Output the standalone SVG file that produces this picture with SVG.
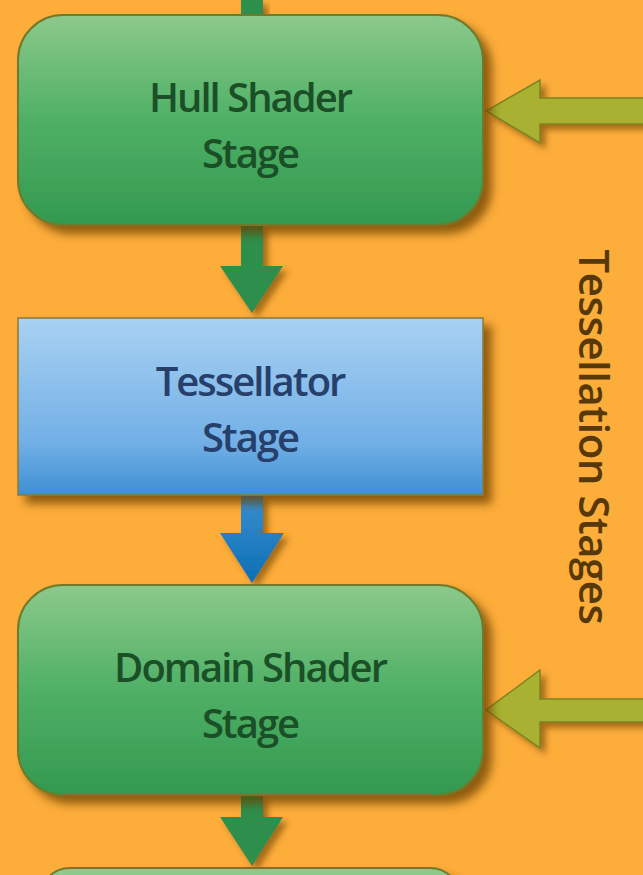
<svg xmlns="http://www.w3.org/2000/svg" width="643" height="875" viewBox="0 0 643 875">
<defs>
<linearGradient id="gGreen" x1="0" y1="0" x2="0" y2="1">
<stop offset="0" stop-color="#8cc98a"/>
<stop offset="0.5" stop-color="#4fb066"/>
<stop offset="1" stop-color="#33994f"/>
</linearGradient>
<linearGradient id="gBlue" x1="0" y1="0" x2="0" y2="1">
<stop offset="0" stop-color="#a9d1f2"/>
<stop offset="0.7" stop-color="#72b0e6"/>
<stop offset="1" stop-color="#3f8fd4"/>
</linearGradient>
<linearGradient id="gBlueArrow" x1="0" y1="0" x2="0" y2="1">
<stop offset="0" stop-color="#3a8fd0"/>
<stop offset="1" stop-color="#0b6fb4"/>
</linearGradient>
<filter id="shadow" x="-10%" y="-10%" width="125%" height="130%">
<feDropShadow dx="8" dy="8" stdDeviation="5" flood-color="#6b4300" flood-opacity="0.75"/>
</filter>
<filter id="ashadow" x="-20%" y="-20%" width="150%" height="150%">
<feDropShadow dx="5" dy="5" stdDeviation="3" flood-color="#6b4300" flood-opacity="0.6"/>
</filter>
</defs>
<style>
.lbl{font-family:"Open Sans","Liberation Sans",sans-serif;font-size:40px;font-weight:600;text-anchor:middle;letter-spacing:-2px}
.gtxt{fill:#1b4f27}
.btxt{fill:#263f6b}
.node{stroke:#6f7a2a;stroke-width:2}
.down{fill:#2f8f4e}
.side{fill:#a9b132;stroke:#7d8420;stroke-width:1.5}
</style>
<rect x="0" y="0" width="643" height="875" fill="#fdad3a"/>
<g id="connectors">
<path class="down" filter="url(#ashadow)" d="M241,0 H263 V15 H241 Z"/>
<path class="down" filter="url(#ashadow)" d="M241,225 H263 V266 H283 L252,313 L220,266 H241 Z"/>
<path fill="url(#gBlueArrow)" filter="url(#ashadow)" d="M241,495 H263 V533 H284 L252,583 L220,533 H241 Z"/>
<path class="down" filter="url(#ashadow)" d="M241,795 H263 V817 H283 L252,866 L220,817 H241 Z"/>
<path class="side" filter="url(#ashadow)" d="M650,98 H540 V80 L486,111 L540,143 V124 H650 Z"/>
<path class="side" filter="url(#ashadow)" d="M650,699 H540 V670 L486,710 L540,748 V722 H650 Z"/>
</g>
<g id="hull">
<rect class="node" x="18" y="15" width="465" height="210" rx="45" ry="45" fill="url(#gGreen)" filter="url(#shadow)"/>
<text class="lbl gtxt" x="250" y="112">Hull Shader</text>
<text class="lbl gtxt" x="250" y="168">Stage</text>
</g>
<g id="tessellator">
<rect x="18" y="318" width="465" height="177" fill="url(#gBlue)" stroke="#8a7a3a" stroke-width="1.5" filter="url(#shadow)"/>
<text class="lbl btxt" x="250" y="396">Tessellator</text>
<text class="lbl btxt" x="250" y="452">Stage</text>
</g>
<g id="domain">
<rect class="node" x="18" y="585" width="465" height="210" rx="45" ry="45" fill="url(#gGreen)" filter="url(#shadow)"/>
<text class="lbl gtxt" x="250" y="682">Domain Shader</text>
<text class="lbl gtxt" x="250" y="738">Stage</text>
</g>
<g id="next">
<rect class="node" x="40" y="868" width="420" height="60" rx="30" ry="30" fill="#8cc98a" filter="url(#shadow)"/>
</g>
<g id="group-label">
<text x="595" y="437" transform="rotate(90 595 437)" font-family="'Open Sans','Liberation Sans',sans-serif" font-size="42" font-weight="600" fill="#573808" text-anchor="middle" dominant-baseline="central" letter-spacing="-0.5">Tessellation Stages</text>
</g>
</svg>
